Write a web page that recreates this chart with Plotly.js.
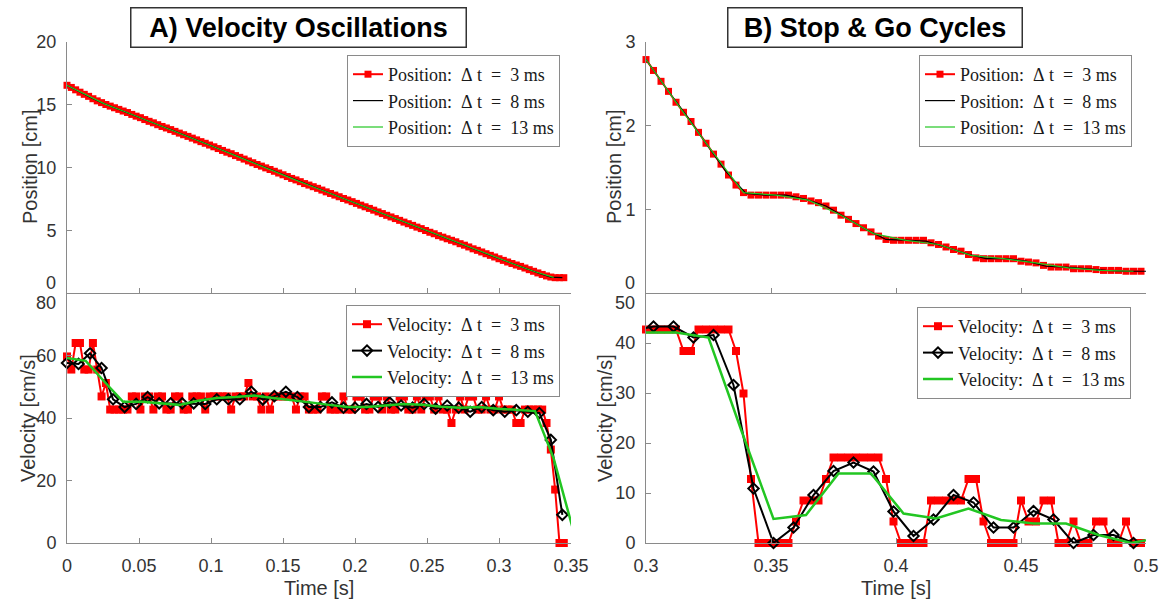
<!DOCTYPE html>
<html>
<head>
<meta charset="utf-8">
<script src="https://cdn.plot.ly/plotly-3.0.1.min.js"></script>
<style>
  html, body { margin: 0; padding: 0; background: #fff; }
  #chart { width: 1162px; height: 601px; }
</style>
</head>
<body>
<div id="chart"></div>
<script>
// ---------- A) Velocity Oscillations ----------
// position samples [cm], first sample at t = 0
const posA3 = [16.55,16.38,16.19,16.00,15.83,15.67,15.48,15.31,15.17,15.02,
  14.89,14.76,14.63,14.50,14.38,14.23,14.09,13.97,13.82,13.68,
  13.56,13.41,13.27,13.15,13.02,12.88,12.74,12.61,12.48,12.34,
  12.20,12.06,11.93,11.79,11.65,11.51,11.36,11.22,11.10,10.95,
  10.81,10.67,10.52,10.38,10.24,10.11,9.97,9.84,9.70,9.56,
  9.42,9.28,9.13,9.01,8.87,8.72,8.60,8.47,8.34,8.20,
  8.06,7.93,7.80,7.67,7.53,7.41,7.28,7.14,7.00,6.87,
  6.74,6.60,6.46,6.33,6.19,6.06,5.93,5.79,5.65,5.52,
  5.39,5.25,5.13,4.98,4.84,4.72,4.57,4.45,4.32,4.20,
  4.08,3.93,3.81,3.67,3.52,3.40,3.27,3.13,3.00,2.87,
  2.73,2.60,2.47,2.35,2.23,2.12,1.99,1.86,1.73,1.60,
  1.48,1.36,1.27,1.22,1.22,1.22];
const posA8 = [16.55,16.06,15.60,15.17,14.80,14.46,14.09,13.73,13.37,13.02,
  12.65,12.29,11.93,11.55,11.18,10.81,10.42,10.06,9.70,9.32,
  8.96,8.60,8.25,7.89,7.53,7.18,6.82,6.46,6.10,5.74,
  5.39,5.03,4.67,4.32,3.98,3.62,3.27,2.91,2.56,2.23,
  1.90,1.56,1.27,1.22];
const posA13 = [16.55,15.78,15.07,14.50,13.92,13.32,12.74,12.15,11.55,10.95,
  10.33,9.75,9.13,8.55,7.97,7.41,6.82,6.24,5.65,5.08,
  4.49,3.93,3.35,2.78,2.23,1.69,1.24];

// velocity samples [cm/s]
const velA3 = [59.7,55.5,64,64,55.5,55.5,64,55.5,46.9,51.2,
  42.7,42.7,42.7,42.7,42.7,46.9,46.9,42.7,46.9,46.9,
  42.7,46.9,46.9,42.7,42.7,46.9,46.9,42.7,42.7,46.9,
  46.9,46.9,42.7,46.9,46.9,46.9,46.9,46.9,42.7,46.9,
  46.9,46.9,51.2,46.9,46.9,42.7,46.9,42.7,46.9,46.9,
  46.9,46.9,46.9,42.7,46.9,46.9,42.7,42.7,42.7,46.9,
  46.9,42.7,42.7,42.7,46.9,42.7,42.7,46.9,46.9,42.7,
  42.7,46.9,46.9,42.7,46.9,42.7,42.7,46.9,46.9,42.7,
  42.7,46.9,42.7,46.9,46.9,42.7,46.9,42.7,42.7,38.4,
  42.7,46.9,42.7,46.9,46.9,42.7,42.7,46.9,42.7,42.7,
  46.9,42.7,42.7,42.7,38.4,38.4,42.7,42.7,42.7,42.7,
  42.7,38.4,29.9,17.1,0,0];
const velA8 = [57.6,57.3,60.7,56.0,46.0,43.5,44.5,46.7,44.7,44.7,
  44.7,44.7,44.5,46.0,46.0,46.0,48.4,45.9,47.0,48.4,
  46.7,43.5,43.5,45.0,43.3,43.3,44.5,43.5,45.0,44.0,
  43.3,44.5,43.0,44.0,43.3,42.0,43.5,42.5,42.0,42.5,
  42.0,41.6,33.0,9.0];
const velA13 = [59.2,58.3,51.6,45.2,45.2,44.8,44.2,45.5,46.4,46.7,
  47.2,46.4,45.8,45.0,44.2,43.5,43.5,44.0,44.5,44.2,
  43.6,43.3,43.5,43.0,42.5,42.2,27.0,5.0];

// ---------- B) Stop & Go Cycles ----------
const posB3 = [2.79,2.66,2.53,2.41,2.28,2.16,2.05,1.92,1.79,1.66,
  1.54,1.41,1.29,1.20,1.17,1.17,1.17,1.17,1.17,1.17,
  1.15,1.13,1.10,1.08,1.04,0.99,0.93,0.88,0.83,0.78,
  0.73,0.68,0.64,0.63,0.63,0.63,0.63,0.63,0.60,0.58,
  0.55,0.52,0.50,0.46,0.42,0.41,0.41,0.41,0.41,0.41,
  0.38,0.37,0.36,0.33,0.31,0.31,0.31,0.29,0.29,0.29,
  0.28,0.27,0.27,0.27,0.26,0.26,0.26];
const posB8 = [2.79,2.45,2.13,1.79,1.45,1.19,1.17,1.17,1.12,1.04,
  0.90,0.76,0.64,0.63,0.62,0.55,0.47,0.41,0.41,0.38,
  0.32,0.31,0.29,0.27,0.26,0.26];
const posB13 = [2.79,2.24,1.71,1.20,1.17,1.11,0.93,0.71,0.63,0.58,
  0.45,0.41,0.36,0.30,0.27,0.26];

const velB3 = [42.7,42.7,42.7,42.7,42.7,38.4,38.4,42.7,42.7,42.7,
  42.7,42.7,38.4,29.9,12.8,0,0,0,0,0,
  4.3,8.5,8.5,8.5,12.8,17.1,17.1,17.1,17.1,17.1,
  17.1,17.1,12.8,4.3,0,0,0,0,8.5,8.5,
  8.5,8.5,8.5,12.8,12.8,4.3,0,0,0,0,
  8.5,4.3,4.3,8.5,8.5,0,0,4.3,0,0,
  4.3,4.3,0,0,4.3,0,0];
const velB8 = [42.5,43.3,43.3,41.1,41.6,31.6,10.9,0,3.1,9.6,
  14.4,16.1,14.3,6.3,1.4,4.7,9.6,8.1,3.1,3.1,
  6.4,4.7,0,1.6,1.6,0];
const velB13 = [42.1,42.1,41.1,22.7,4.8,5.6,13.9,13.9,5.9,4.9,
  6.9,4.6,3.9,3.9,1.6,0,1.2];

// sample instants: start time and sampling step [s]
const startA = {d3: 0, d8: 0, d13: 0};
const startB = {pos3: 0.3, pos8: 0.3, pos13: 0.3, vel3: 0.3, vel8: 0.295, vel13: 0.299};
const step = {d3: 0.003, d8: 0.008, d13: 0.013};

// legend labels (non-breaking spaces keep the math-style spacing)
const NB = '\u00a0';
function dtLabel(quantity, ms) {
  return quantity + ':' + NB + NB + '\u0394' + NB + 't' + NB + NB + '=' + NB + NB + ms + NB + 'ms';
}
const legendNames = {
  pos: [dtLabel('Position', 3), dtLabel('Position', 8), dtLabel('Position', 13)],
  vel: [dtLabel('Velocity', 3), dtLabel('Velocity', 8), dtLabel('Velocity', 13)]
};

function times(t0, dt, n) {
  const out = [];
  for (let i = 0; i < n; i++) out.push(+(t0 + i * dt).toFixed(4));
  return out;
}

const RED = '#ff0000', BLACK = '#000000', GREEN = '#22c622';
const W = 1162, H = 601;
const px = x => x / W;
const py = y => 1 - y / H;

function redTrace(t, v, name, xa, ya, lg, msize) {
  return {x: t, y: v, name: name, xaxis: xa, yaxis: ya, legend: lg,
    type: 'scatter', mode: 'lines+markers', cliponaxis: false,
    line: {color: RED, width: 2}, marker: {symbol: 'square', size: msize, color: RED}};
}
function thinLine(t, v, name, color, xa, ya, lg) {
  return {x: t, y: v, name: name, xaxis: xa, yaxis: ya, legend: lg,
    type: 'scatter', mode: 'lines', line: {color: color, width: 1.2}};
}
function diamondTrace(t, v, name, xa, ya, lg) {
  return {x: t, y: v, name: name, xaxis: xa, yaxis: ya, legend: lg,
    type: 'scatter', mode: 'lines+markers', cliponaxis: false,
    line: {color: BLACK, width: 2},
    marker: {symbol: 'diamond-open', size: 8, color: BLACK, line: {color: BLACK, width: 2}}};
}
function greenThick(t, v, name, xa, ya, lg) {
  return {x: t, y: v, name: name, xaxis: xa, yaxis: ya, legend: lg,
    type: 'scatter', mode: 'lines', line: {color: GREEN, width: 2.5}};
}

const traces = [
  // A: position
  redTrace(times(startA.d3, step.d3, posA3.length), posA3, legendNames.pos[0], 'x', 'y', 'legend', 7),
  thinLine(times(startA.d8, step.d8, posA8.length), posA8, legendNames.pos[1], BLACK, 'x', 'y', 'legend'),
  thinLine(times(startA.d13, step.d13, posA13.length), posA13, legendNames.pos[2], GREEN, 'x', 'y', 'legend'),
  // A: velocity
  redTrace(times(startA.d3, step.d3, velA3.length), velA3, legendNames.vel[0], 'x2', 'y2', 'legend2', 8),
  diamondTrace(times(startA.d8, step.d8, velA8.length), velA8, legendNames.vel[1], 'x2', 'y2', 'legend2'),
  greenThick(times(startA.d13, step.d13, velA13.length), velA13, legendNames.vel[2], 'x2', 'y2', 'legend2'),
  // B: position
  redTrace(times(startB.pos3, step.d3, posB3.length), posB3, legendNames.pos[0], 'x3', 'y3', 'legend3', 7),
  thinLine(times(startB.pos8, step.d8, posB8.length), posB8, legendNames.pos[1], BLACK, 'x3', 'y3', 'legend3'),
  thinLine(times(startB.pos13, step.d13, posB13.length), posB13, legendNames.pos[2], GREEN, 'x3', 'y3', 'legend3'),
  // B: velocity
  redTrace(times(startB.vel3, step.d3, velB3.length), velB3, legendNames.vel[0], 'x4', 'y4', 'legend4', 8),
  diamondTrace(times(startB.vel8, step.d8, velB8.length), velB8, legendNames.vel[1], 'x4', 'y4', 'legend4'),
  greenThick(times(startB.vel13, step.d13, velB13.length), velB13, legendNames.vel[2], 'x4', 'y4', 'legend4')
];

const AXIS_GRAY = '#8a8a8a';
const tickFont = {family: 'Liberation Sans, Arial, sans-serif', size: 18, color: '#333333'};
function axis(extra) {
  return Object.assign({
    showline: true, linecolor: AXIS_GRAY, linewidth: 1,
    ticks: 'inside', ticklen: 5, tickcolor: AXIS_GRAY, tickwidth: 1,
    showgrid: false, zeroline: false, fixedrange: true,
    tickfont: tickFont, ticklabelstandoff: 6
  }, extra);
}

const leftX = [px(67), px(571)], rightX = [px(646), px(1146)];
const topY = [py(293), py(42)], botY = [py(543), py(293)];

function legendBox(xRight, yTop) {
  return {x: px(xRight), y: py(yTop), xanchor: 'right', yanchor: 'top',
    bgcolor: '#ffffff', bordercolor: AXIS_GRAY, borderwidth: 1,
    font: {family: 'Liberation Serif, Times New Roman, serif', size: 18, color: '#1a1a1a'},
    itemwidth: 30, tracegroupgap: 0, traceorder: 'normal'};
}

const labelFont = {family: 'Liberation Sans, Arial, sans-serif', size: 20, color: '#333333'};
function sideLabel(text, x, y, angle) {
  return {text: text, xref: 'paper', yref: 'paper', x: px(x), y: py(y),
    xanchor: 'center', yanchor: 'middle', showarrow: false, textangle: angle || 0, font: labelFont};
}
function edgeTick(text, xr, y) {
  return {text: text, xref: 'paper', yref: 'paper', x: px(xr), y: py(y),
    xanchor: 'right', yanchor: 'middle', showarrow: false, font: tickFont};
}
function panelTitle(text, cx, w) {
  return {text: '<b>' + text + '</b>', xref: 'paper', yref: 'paper', x: px(cx), y: py(28),
    xanchor: 'center', yanchor: 'middle', showarrow: false,
    font: {family: 'Liberation Sans, Arial, sans-serif', size: 27, color: '#000000'},
    bgcolor: '#ffffff', bordercolor: '#333333', borderwidth: 1.5, borderpad: 3,
    width: w, height: 32};
}

const layout = {
  width: W, height: H,
  margin: {l: 0, r: 0, t: 0, b: 0},
  paper_bgcolor: '#ffffff', plot_bgcolor: '#ffffff',
  showlegend: true,
  xaxis: axis({domain: leftX, anchor: 'y', range: [0, 0.35], dtick: 0.05, tick0: 0, showticklabels: false}),
  yaxis: axis({domain: topY, anchor: 'x', range: [0, 20], tickvals: [0, 5, 10, 15, 20], ticktext: ['', '5', '10', '15', '20']}),
  xaxis2: axis({domain: leftX, anchor: 'y2', range: [0, 0.35], dtick: 0.05, tick0: 0}),
  yaxis2: axis({domain: botY, anchor: 'x2', range: [0, 80], tickvals: [0, 20, 40, 60, 80], ticktext: ['0', '20', '40', '60', '']}),
  xaxis3: axis({domain: rightX, anchor: 'y3', range: [0.3, 0.5], dtick: 0.05, tick0: 0.3, showticklabels: false}),
  yaxis3: axis({domain: topY, anchor: 'x3', range: [0, 3], tickvals: [0, 1, 2, 3], ticktext: ['', '1', '2', '3']}),
  xaxis4: axis({domain: rightX, anchor: 'y4', range: [0.3, 0.5], dtick: 0.05, tick0: 0.3}),
  yaxis4: axis({domain: botY, anchor: 'x4', range: [0, 50], tickvals: [0, 10, 20, 30, 40, 50], ticktext: ['0', '10', '20', '30', '40', '']}),
  legend: legendBox(560, 55),
  legend2: legendBox(560, 305),
  legend3: legendBox(1132, 55),
  legend4: legendBox(1131, 307),
  annotations: [
    panelTitle('A) Velocity Oscillations', 298, 328),
    panelTitle('B) Stop &amp; Go Cycles', 875, 287),
    sideLabel('Position [cm]', 30, 167, -90),
    sideLabel('Velocity [cm/s]', 28, 418, -90),
    sideLabel('Position [cm]', 614, 167, -90),
    sideLabel('Velocity [cm/s]', 605, 418, -90),
    sideLabel('Time [s]', 319, 588),
    sideLabel('Time [s]', 896, 588),
    edgeTick('0', 58, 283),
    edgeTick('80', 58, 303),
    edgeTick('0', 637, 283),
    edgeTick('50', 637, 303)
  ]
};

Plotly.newPlot('chart', traces, layout, {displayModeBar: false, staticPlot: true});
</script>
</body>
</html>
